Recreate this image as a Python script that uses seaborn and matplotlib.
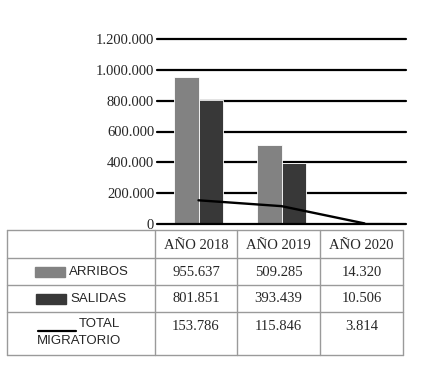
import matplotlib
matplotlib.use("Agg")
import matplotlib.pyplot as plt
import matplotlib.ticker as mticker
from matplotlib.patches import Rectangle
import pandas as pd
import seaborn as sns

years = ["AÑO 2018", "AÑO 2019", "AÑO 2020"]
arribos = [955637, 509285, 14320]
salidas = [801851, 393439, 10506]
total_migratorio = [153786, 115846, 3814]
series_names = ["ARRIBOS", "SALIDAS"]
yticks = [0, 200000, 400000, 600000, 800000, 1000000, 1200000]

GRAY = "#828282"
DARK = "#383838"


def fmt_num(v):
    return f"{int(v):,}".replace(",", ".")


df = pd.DataFrame({
    "year": years * 2,
    "serie": [series_names[0]] * 3 + [series_names[1]] * 3,
    "valor": arribos + salidas,
})

sns.set_style("white")
plt.rcParams["font.family"] = ["Liberation Serif", "DejaVu Serif"]

fig = plt.figure(figsize=(4.3, 3.92), dpi=100)
ax = fig.add_axes([157 / 430, 1 - 224 / 392, 249 / 430, 185 / 392])

sns.barplot(data=df, x="year", y="valor", hue="serie", palette=[GRAY, DARK],
            width=0.58, ax=ax, legend=False, edgecolor="white", linewidth=0.6,
            saturation=1)
sns.lineplot(x=years, y=total_migratorio, color="black", linewidth=1.7, ax=ax,
             sort=False, zorder=5)

ax.set_ylim(0, 1200000)
ax.set_yticks(yticks)
ax.yaxis.set_major_formatter(mticker.FuncFormatter(lambda v, p: fmt_num(v)))
ax.set_xlabel("")
ax.set_ylabel("")
ax.set_xticks([])
for v in yticks[1:]:
    ax.axhline(v, color="black", linewidth=1.6, zorder=0, clip_on=False)
ax.axhline(0, color="black", linewidth=1.6, zorder=6, clip_on=False)
for s in ax.spines.values():
    s.set_visible(False)
ax.tick_params(axis="y", length=0, pad=2, labelsize=10.5)
ax.set_xlim(-0.5, 2.5)

# data table below the chart
tb = fig.add_axes([7 / 430, 1 - 355 / 392, 396 / 430, 125 / 392])
tb.set_xlim(0, 396)
tb.set_ylim(125, 0)
tb.axis("off")
col_x = [0, 148, 230, 313, 396]
row_y = [0, 28, 55, 82, 125]
lc = "#9a9a9a"
for x in col_x:
    tb.plot([x, x], [0, 125], color=lc, linewidth=1, clip_on=False)
for y in row_y:
    tb.plot([0, 396], [y, y], color=lc, linewidth=1, clip_on=False)

centers = [(col_x[i] + col_x[i + 1]) / 2 for i in range(1, 4)]
for cx, yr in zip(centers, years):
    tb.text(cx, 15, yr, ha="center", va="center", fontsize=10.5)
for cx, a, s, t in zip(centers, arribos, salidas, total_migratorio):
    tb.text(cx, 42, fmt_num(a), ha="center", va="center", fontsize=10.5)
    tb.text(cx, 69, fmt_num(s), ha="center", va="center", fontsize=10.5)
    tb.text(cx, 97, fmt_num(t), ha="center", va="center", fontsize=10.5)

sans = ["Liberation Sans", "DejaVu Sans"]
tb.add_patch(Rectangle((28, 37), 30, 10, color=GRAY, clip_on=False))
tb.text(62, 42, series_names[0], ha="left", va="center", fontsize=9.5, family=sans)
tb.add_patch(Rectangle((29, 64), 30, 10, color=DARK, clip_on=False))
tb.text(63, 69, series_names[1], ha="left", va="center", fontsize=9.5, family=sans)
tb.plot([31, 69], [101, 101], color="black", linewidth=1.6, clip_on=False)
tb.text(72, 94, "TOTAL", ha="left", va="center", fontsize=9.5, family=sans)
tb.text(30, 111, "MIGRATORIO", ha="left", va="center", fontsize=9.5, family=sans)

fig.savefig("out.png", dpi=100, facecolor="white")
